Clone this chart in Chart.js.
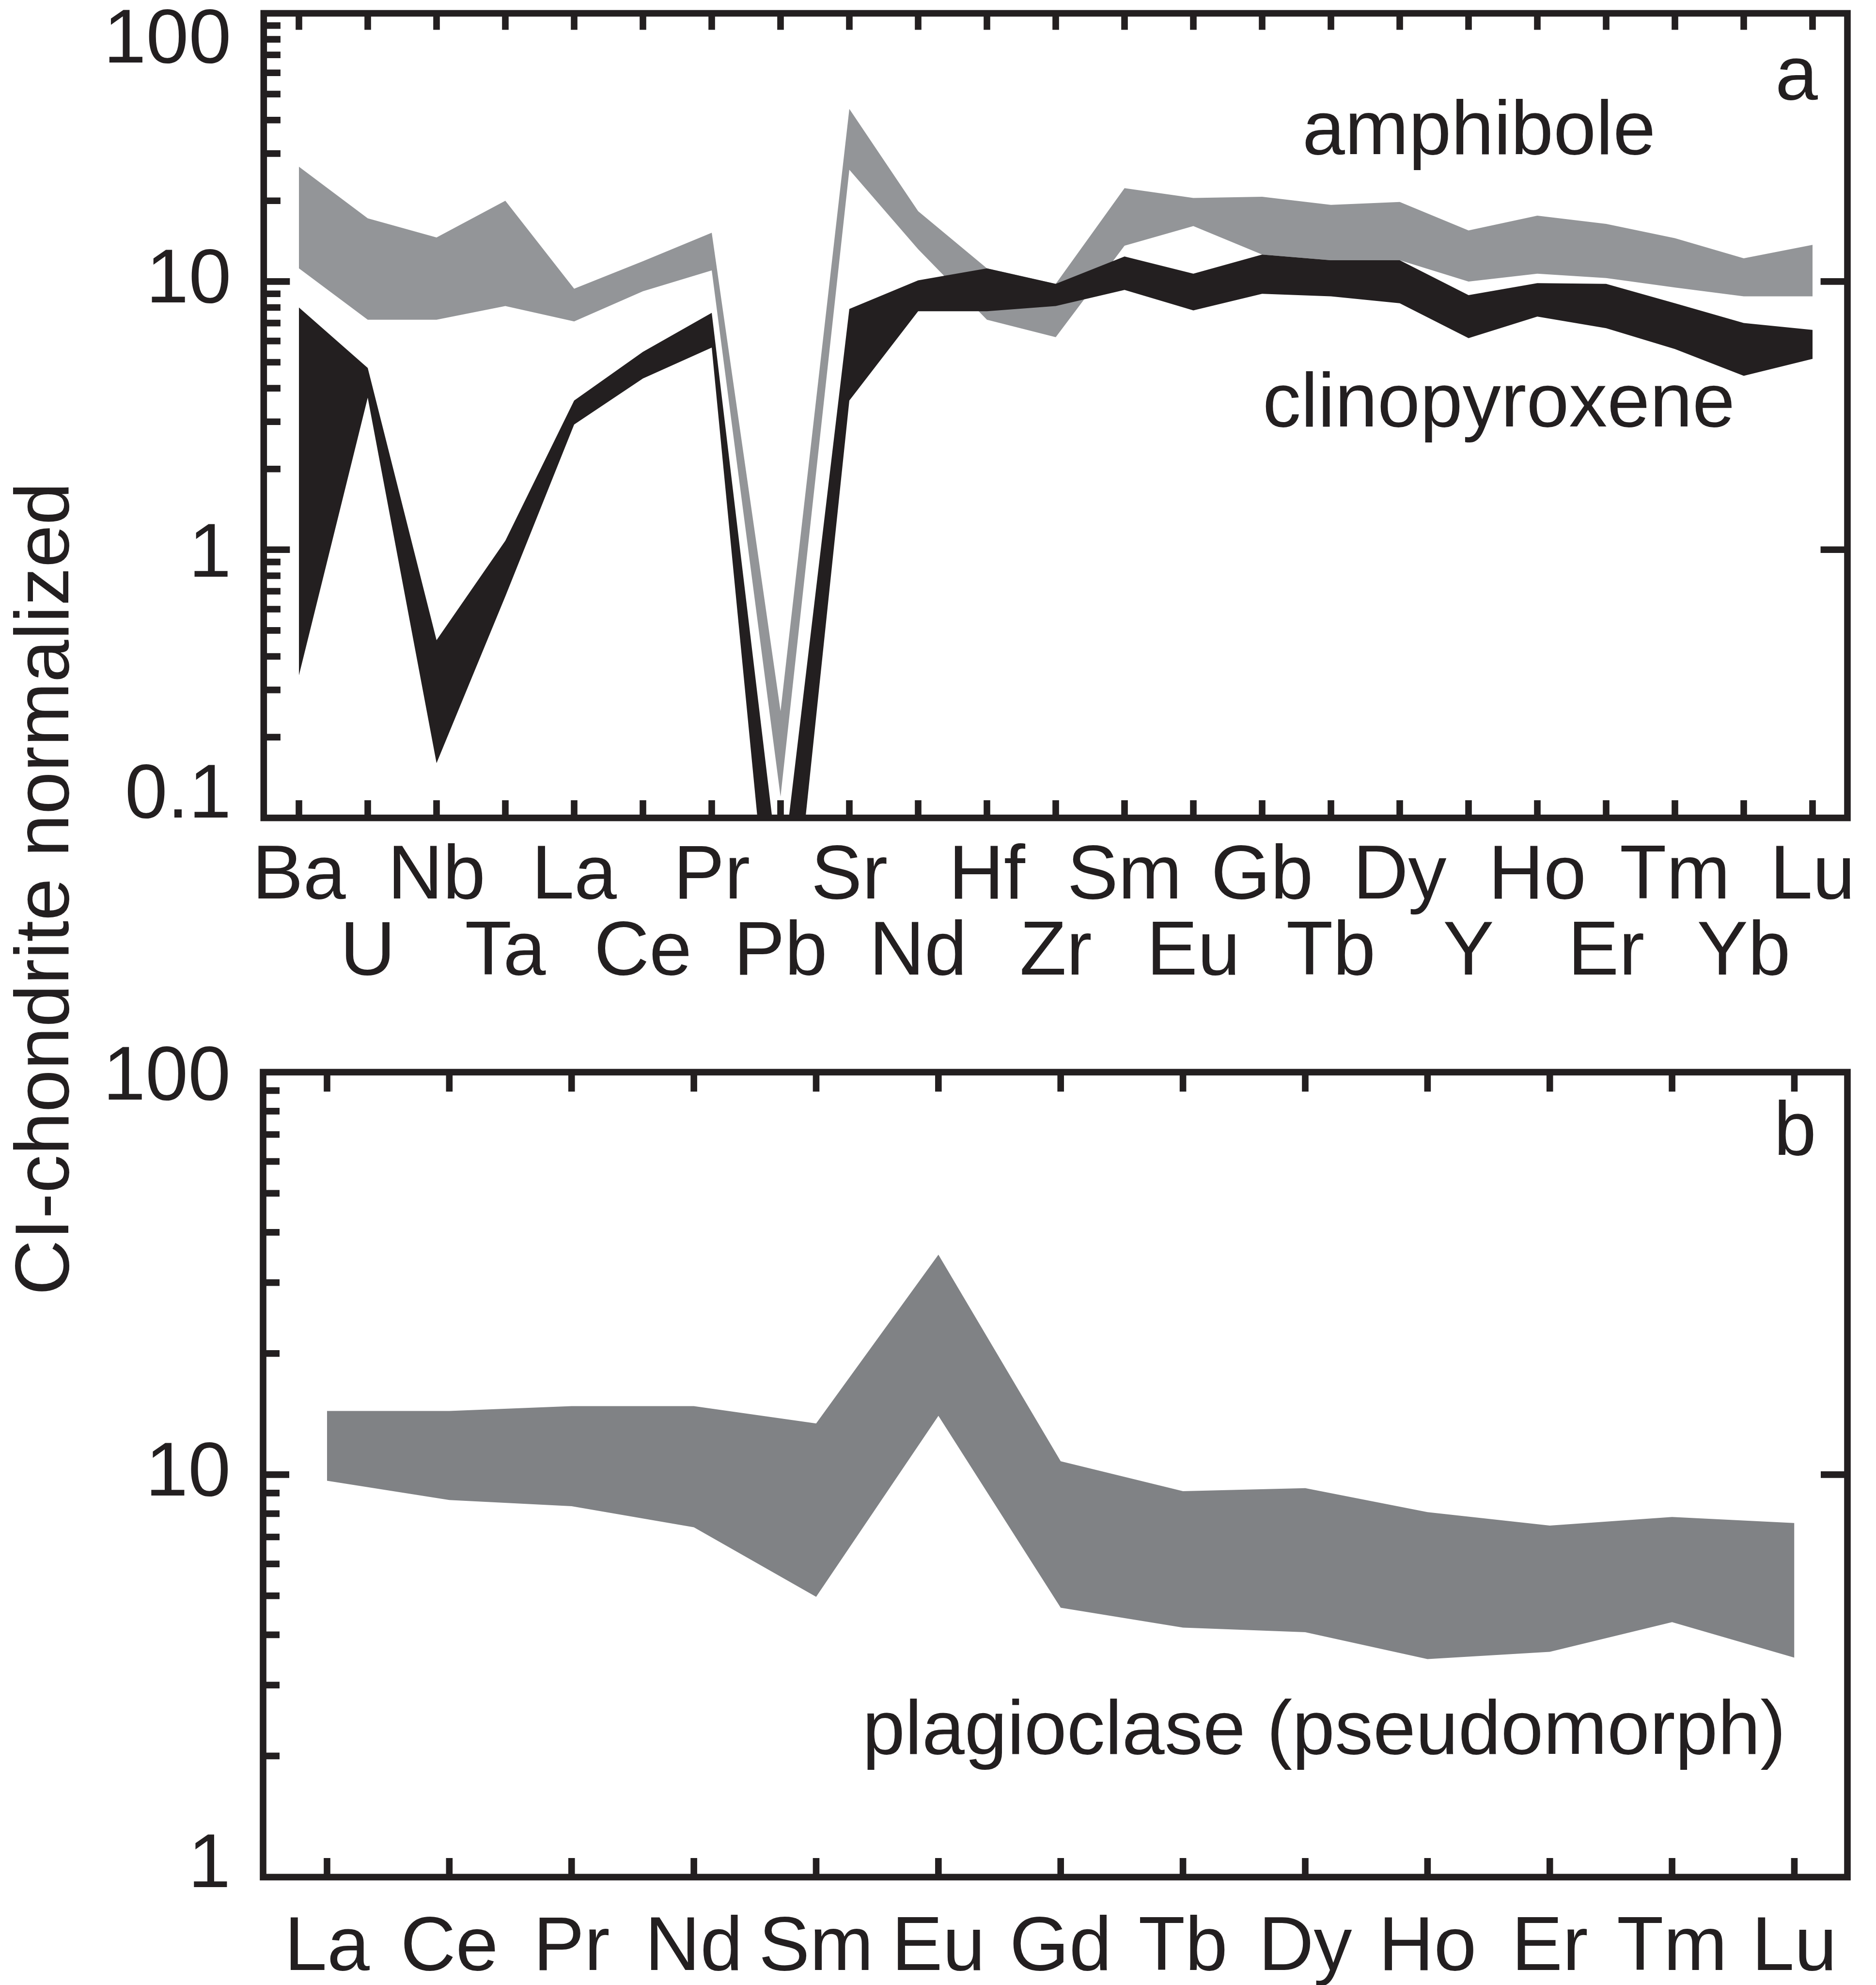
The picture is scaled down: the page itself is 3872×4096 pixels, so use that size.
<!DOCTYPE html>
<html>
<head>
<meta charset="utf-8">
<script src="https://cdn.jsdelivr.net/npm/chart.js@4.4.1/dist/chart.umd.min.js"></script>
<style>
  html, body { margin: 0; padding: 0; background: #fff; }
  #wrap { position: relative; width: 3872px; height: 4096px; overflow: hidden; background: #fff; }
  canvas { position: absolute; left: 0; }
  #cvA { top: 0; }
  #cvB { top: 2100px; }
  #ytitle {
    position: absolute; left: -913.7px; top: 1755px; width: 2000px; height: 158px;
    font-family: "Liberation Sans", Arial, Helvetica, sans-serif; font-size: 158px; line-height: 158px;
    color: #231f20; text-align: center; white-space: nowrap; transform: rotate(-90deg);
  }
</style>
</head>
<body>
<div id="wrap">
  <canvas id="cvA" width="3872" height="2100"></canvas>
  <canvas id="cvB" width="3872" height="1996"></canvas>
  <div id="ytitle">CI-chondrite normalized</div>
</div>
<script>
// panel a: trace elements
const ELEMENTS_A = ["Ba", "U", "Nb", "Ta", "La", "Ce", "Pr", "Pb", "Sr", "Nd", "Hf", "Zr",
                    "Sm", "Eu", "Gb", "Tb", "Dy", "Y", "Ho", "Er", "Tm", "Yb", "Lu"];
const AMPH_HI = [26.8, 17.2, 14.6, 20.0, 9.4, 11.9, 15.2, 0.25, 44.0, 18.3, 11.2, 9.8,
                 22.3, 20.5, 20.7, 19.3, 19.8, 15.5, 17.6, 16.4, 14.5, 12.2, 13.7];
const AMPH_LO = [11.2, 7.2, 7.2, 8.1, 7.1, 9.2, 11.0, 0.12, 26.1, 13.2, 7.2, 6.2,
                 13.6, 16.1, 12.6, 12.0, 12.0, 10.0, 10.7, 10.3, 9.5, 8.8, 8.8];
const CPX_HI = [8.0, 4.76, 0.46, 1.08, 3.6, 5.47, 7.64, 0.055, 7.9, 10.1, 11.2, 9.8,
                12.4, 10.7, 12.6, 12.0, 12.0, 8.9, 9.86, 9.8, 8.3, 7.0, 6.6];
const CPX_LO = [0.34, 3.69, 0.16, 0.67, 2.93, 4.35, 5.67, 0.013, 3.6, 7.75, 7.75, 8.1,
                9.3, 7.8, 9.0, 8.8, 8.3, 6.15, 7.4, 6.7, 5.6, 4.45, 5.15];
const Y_TICKS_A = [0.1, 1, 10, 100];
const Y_LABELS_A = ["0.1", "1", "10", "100"];

// panel b: REE
const ELEMENTS_B = ["La", "Ce", "Pr", "Nd", "Sm", "Eu", "Gd", "Tb", "Dy", "Ho", "Er", "Tm", "Lu"];
const PLAG_HI = [14.4, 14.4, 14.8, 14.8, 13.4, 35.2, 10.8, 9.1, 9.26, 8.07, 7.47, 7.85, 7.58];
const PLAG_LO = [9.66, 8.65, 8.35, 7.4, 4.97, 14.0, 4.67, 4.17, 4.06, 3.48, 3.63, 4.3, 3.51];
const Y_TICKS_B = [1, 10, 100];
const Y_LABELS_B = ["1", "10", "100"];

const INK = "#231f20";
const AMPH_COLOR = "#939598";
const CPX_COLOR = "#231f20";
const PLAG_COLOR = "#808285";
const FONT = '"Liberation Sans", Arial, Helvetica, sans-serif';
const SIZE = 158;
const ROW_H = 157;
const FRAME_W = 13.6;

function pts(arr) {
    return arr.map((v, i) => ({ x: i, y: v }));
}

function band(hi, lo, color) {
    const base = { borderWidth: 0, borderColor: "rgba(0,0,0,0)", pointRadius: 0, tension: 0, clip: 0 };
    return [
        Object.assign({}, base, { data: pts(hi), backgroundColor: color, fill: "+1" }),
        Object.assign({}, base, { data: pts(lo), backgroundColor: color, fill: false })
    ];
}

function decadeTicks(decades) {
    const out = [];
    decades.forEach(d => { for (let k = 2; k <= 9; k++) out.push(d * k); });
    return out;
}

// frame + inward tick marks, placed with the chart's own scales
function framePlugin(cfg) {
    return {
        id: "frame",
        afterDatasetsDraw(chart) {
            const { ctx, chartArea: a } = chart;
            const x = chart.scales.x, y = chart.scales.y;
            ctx.save();
            ctx.strokeStyle = INK;
            ctx.lineWidth = FRAME_W;
            ctx.lineCap = "butt";
            ctx.beginPath();
            for (let i = 0; i < cfg.count; i++) {
                const px = x.getPixelForValue(i);
                ctx.moveTo(px, a.top);    ctx.lineTo(px, a.top + cfg.topLen);
                ctx.moveTo(px, a.bottom); ctx.lineTo(px, a.bottom - cfg.bottomLen);
            }
            cfg.minor.forEach(v => {
                const py = y.getPixelForValue(v);
                ctx.moveTo(a.left, py); ctx.lineTo(a.left + cfg.minorLen, py);
            });
            cfg.major.forEach(v => {
                const py = y.getPixelForValue(v);
                ctx.moveTo(a.left, py);  ctx.lineTo(a.left + cfg.majorLen, py);
                ctx.moveTo(a.right, py); ctx.lineTo(a.right - cfg.rightLen, py);
            });
            ctx.stroke();
            ctx.strokeRect(a.left, a.top, a.right - a.left, a.bottom - a.top);
            ctx.restore();
        }
    };
}

function notesPlugin(items) {
    return {
        id: "notes",
        afterDraw(chart) {
            const ctx = chart.ctx;
            ctx.save();
            ctx.fillStyle = INK;
            ctx.font = SIZE + "px " + FONT;
            ctx.textAlign = "left";
            ctx.textBaseline = "alphabetic";
            items.forEach(t => ctx.fillText(t.text, t.x, t.y));
            ctx.restore();
        }
    };
}

function yLabel(lbl, shift) {
    if (shift > 0) return ["", lbl];
    if (shift < 0) return [lbl, ""];
    return lbl;
}

function noPad(s) {
    s.paddingTop = 0; s.paddingBottom = 0;
    s.paddingLeft = 0; s.paddingRight = 0;
}

function panelOptions(p) {
    return {
        responsive: false,
        animation: false,
        devicePixelRatio: 1,
        layout: { padding: { top: p.top, right: p.right, left: 0, bottom: 0 } },
        plugins: { legend: { display: false }, tooltip: { enabled: false } },
        scales: {
            x: {
                type: "linear", position: "bottom", min: p.xMin, max: p.xMax,
                grid: { display: false, drawTicks: false },
                border: { display: false },
                afterBuildTicks: s => { s.ticks = p.names.map((_, i) => ({ value: i })); },
                afterFit: s => { s.height = p.xAxisH; noPad(s); },
                ticks: {
                    autoSkip: false, maxRotation: 0, minRotation: 0,
                    padding: p.xPad, color: INK,
                    font: { family: FONT, size: SIZE, lineHeight: ROW_H + "px" },
                    callback: (v, i) => p.xLabel(i)
                }
            },
            y: {
                type: "logarithmic", position: "left", min: p.yTicks[0], max: p.yTicks[p.yTicks.length - 1],
                grid: { display: false, drawTicks: false },
                border: { display: false },
                afterBuildTicks: s => { s.ticks = p.yTicks.map(v => ({ value: v, major: true })); },
                afterFit: s => { s.width = p.left; noPad(s); },
                ticks: {
                    autoSkip: false, padding: 67, color: INK,
                    font: ctx => ({ family: FONT, size: SIZE,
                                    lineHeight: Math.max(2, Math.abs(p.yShift[ctx.index] || 0) * 2) + "px" }),
                    callback: (v, i) => yLabel(p.yLabels[i], p.yShift[i])
                }
            }
        }
    };
}

function renderTop() {
    const opts = panelOptions({
        top: 27.5, right: 59, left: 544.3, xAxisH: 412.3, xPad: 44,
        xMin: -0.512, xMax: 22.507, names: ELEMENTS_A,
        xLabel: i => (i % 2 === 0 ? ELEMENTS_A[i] : ["", ELEMENTS_A[i]]),
        yTicks: Y_TICKS_A, yLabels: Y_LABELS_A, yShift: [-44, 12, 0, 58]
    });
    new Chart(document.getElementById("cvA"), {
        type: "line",
        data: { datasets: band(CPX_HI, CPX_LO, CPX_COLOR).concat(band(AMPH_HI, AMPH_LO, AMPH_COLOR)) },
        options: opts,
        plugins: [
            framePlugin({ count: ELEMENTS_A.length, topLen: 34, bottomLen: 36.5,
                          minorLen: 34.6, majorLen: 54, rightLen: 55.4,
                          minor: decadeTicks([0.1, 1, 10]), major: [1, 10] }),
            notesPlugin([
                { text: "a", x: 3664, y: 205 },
                { text: "amphibole", x: 2688, y: 318 },
                { text: "clinopyroxene", x: 2606, y: 880 }
            ])
        ]
    });
}

function renderBottom() {
    const opts = panelOptions({
        top: 112.4, right: 59, left: 543, xAxisH: 222.6, xPad: 69.4,
        xMin: -0.523, xMax: 12.434, names: ELEMENTS_B,
        xLabel: i => ELEMENTS_B[i],
        yTicks: Y_TICKS_B, yLabels: Y_LABELS_B, yShift: [-23, 0, 13]
    });
    new Chart(document.getElementById("cvB"), {
        type: "line",
        data: { datasets: band(PLAG_HI, PLAG_LO, PLAG_COLOR) },
        options: opts,
        plugins: [
            framePlugin({ count: ELEMENTS_B.length, topLen: 40, bottomLen: 39.4,
                          minorLen: 34, majorLen: 54, rightLen: 55,
                          minor: decadeTicks([1, 10]), major: [10] }),
            notesPlugin([
                { text: "b", x: 3661, y: 283 },
                { text: "plagioclase (pseudomorph)", x: 1780, y: 1519 }
            ])
        ]
    });
}

renderTop();
renderBottom();
</script>
</body>
</html>
